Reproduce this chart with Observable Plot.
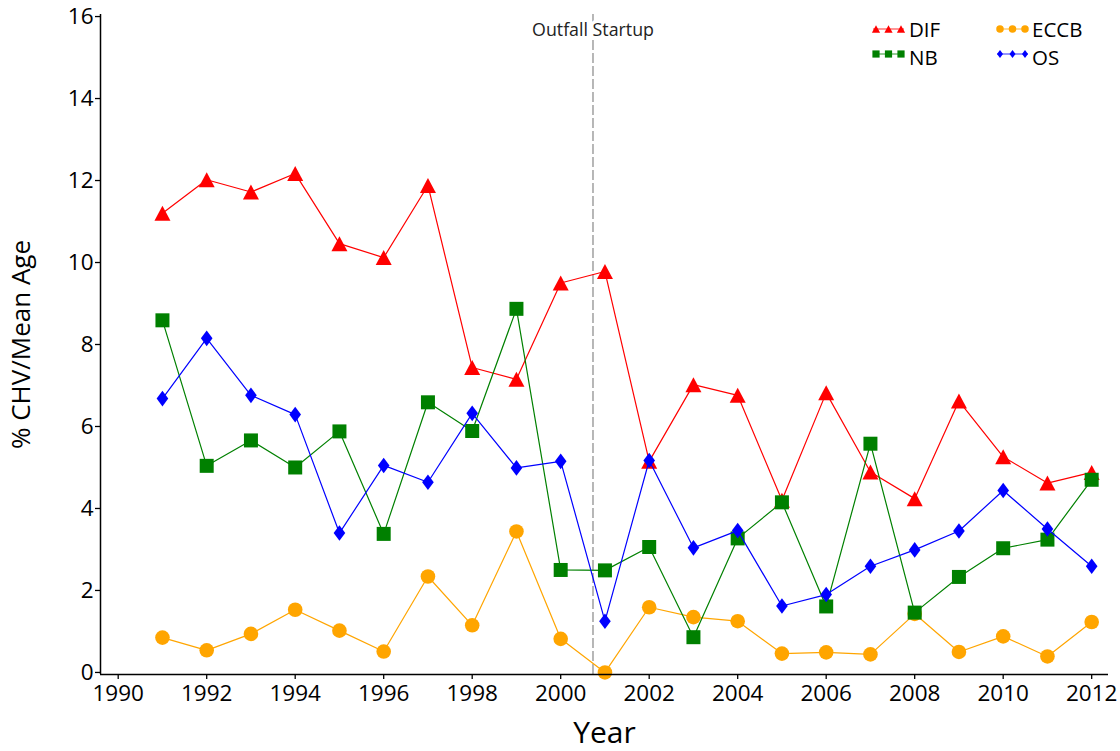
<!DOCTYPE html>
<html>
<head>
<meta charset="utf-8">
<script src="https://cdn.jsdelivr.net/npm/d3@7"></script>
<script src="https://cdn.jsdelivr.net/npm/@observablehq/plot@0.6"></script>
<style>
  html, body { margin: 0; padding: 0; background: #fff; }
  #chart { width: 1120px; height: 751px; }
</style>
</head>
<body>
<div id="chart"></div>
<script>
// ---- data ----
const years = [1991, 1992, 1993, 1994, 1995, 1996, 1997, 1998, 1999, 2000, 2001,
               2002, 2003, 2004, 2005, 2006, 2007, 2008, 2009, 2010, 2011, 2012];
const seriesNames = ["DIF", "ECCB", "NB", "OS"];
const DIF  = [11.2, 12.02, 11.72, 12.17, 10.46, 10.12, 11.88, 7.44, 7.15, 9.5, 9.78,
              5.15, 7.02, 6.76, 4.2, 6.82, 4.89, 4.24, 6.62, 5.26, 4.62, 4.88];
const NB   = [8.59, 5.04, 5.66, 5.0, 5.88, 3.38, 6.59, 5.89, 8.87, 2.5, 2.49,
              3.06, 0.86, 3.27, 4.15, 1.61, 5.58, 1.46, 2.33, 3.03, 3.24, 4.7];
const ECCB = [0.85, 0.54, 0.94, 1.53, 1.02, 0.51, 2.34, 1.15, 3.44, 0.82, 0.0,
              1.59, 1.35, 1.25, 0.46, 0.49, 0.44, 1.43, 0.5, 0.88, 0.39, 1.23];
const OS   = [6.68, 8.15, 6.76, 6.29, 3.4, 5.05, 4.64, 6.32, 4.99, 5.15, 1.25,
              5.17, 3.04, 3.46, 1.62, 1.9, 2.59, 2.99, 3.45, 4.44, 3.5, 2.59];
const xTicks = [1990, 1992, 1994, 1996, 1998, 2000, 2002, 2004, 2006, 2008, 2010, 2012];
const yTicks = [0, 2, 4, 6, 8, 10, 12, 14, 16];
const outfallYear = 2000.73;
const outfallLabel = "Outfall Startup";
const xLabel = "Year";
const yLabel = "% CHV/Mean Age";

// ---- styles ----
const colors = {DIF: "#ff0000", NB: "#008000", ECCB: "#ffa500", OS: "#0000ff"};
const valuesBy = {DIF, NB, ECCB, OS};

// custom marker shapes (scale with Plot's r: r=7 -> k=1)
const kOf = size => Math.sqrt(size / Math.PI) / 7;
const triSym = {draw(c, size) { const k = kOf(size), w = 8 * k, h = 7.5 * k;
  c.moveTo(0, -h); c.lineTo(w, h); c.lineTo(-w, h); c.closePath(); }};
const sqSym = {draw(c, size) { const k = kOf(size), s = 7 * k;
  c.rect(-s, -s, 2 * s, 2 * s); }};
const diaSym = {draw(c, size) { const k = kOf(size), w = 5.8 * k, h = 7.8 * k;
  c.moveTo(0, -h); c.lineTo(w, 0); c.lineTo(0, h); c.lineTo(-w, 0); c.closePath(); }};
const cirSym = {draw(c, size) { const k = kOf(size), r = 7.3 * k;
  c.moveTo(r, 0); c.arc(0, 0, r, 0, 2 * Math.PI); }};
const symbols = {DIF: triSym, NB: sqSym, ECCB: cirSym, OS: diaSym};

const table = seriesNames.flatMap(name =>
  years.map((year, i) => ({name, year, value: valuesBy[name][i]})));

const xDomain = [1989.6, 2012.38];
const yDomain = [-0.05, 16.05];

const seriesMarks = seriesNames.flatMap(name => {
  const d = table.filter(t => t.name === name);
  return [
    Plot.line(d, {x: "year", y: "value", stroke: colors[name], strokeWidth: 1.2}),
    Plot.dot(d, {x: "year", y: "value", symbol: () => symbols[name], r: 7,
                 fill: colors[name], stroke: "none"})
  ];
});

// legend drawn as an SVG group inside the plot
const legendLayout = [
  {name: "DIF",  lx: 873, ly: 29, tx: 909, ty: 37},
  {name: "NB",   lx: 873, ly: 54, tx: 909, ty: 64.5},
  {name: "ECCB", lx: 997, ly: 29, tx: 1032, ty: 37},
  {name: "OS",   lx: 997, ly: 54, tx: 1032, ty: 64.5}
];
function legendMark() {
  const g = d3.create("svg:g");
  for (const it of legendLayout) {
    const col = colors[it.name];
    g.append("line").attr("x1", it.lx).attr("x2", it.lx + 31)
      .attr("y1", it.ly).attr("y2", it.ly)
      .attr("stroke", col).attr("stroke-width", 1.5).attr("opacity", 0.55);
    const sym = d3.symbol(symbols[it.name], Math.PI * 3.6 * 3.6);
    for (const dx of [3, 15.5, 28]) {
      g.append("path").attr("d", sym()).attr("fill", col)
        .attr("transform", `translate(${it.lx + dx},${it.ly})`);
    }
    g.append("text").attr("x", it.tx).attr("y", it.ty)
      .attr("text-anchor", "start")
      .attr("font-size", 20.5).attr("fill", "#000").text(it.name);
  }
  return g.node();
}

const chart = Plot.plot({
  width: 1120,
  height: 751,
  marginLeft: 100,
  marginRight: 12,
  marginTop: 14,
  marginBottom: 77,
  style: {fontFamily: "'Open Sans', 'Noto Sans', sans-serif", fontSize: "22px", color: "#000", background: "#fff"},
  x: {domain: xDomain, label: null},
  y: {domain: yDomain, label: null},
  marks: [
    Plot.ruleX([outfallYear], {stroke: "#888", strokeWidth: 1.2, strokeDasharray: "10,3"}),
    Plot.text([outfallLabel], {x: () => outfallYear, frameAnchor: "top", lineAnchor: "middle", dy: 16,
      fontSize: 17.8, fill: "#222", stroke: "white", strokeWidth: 7}),
    ...seriesMarks,
    Plot.ruleX([xDomain[0]], {stroke: "#000", strokeWidth: 1.5}),
    Plot.ruleY([yDomain[0]], {stroke: "#000", strokeWidth: 1.5}),
    Plot.axisX({ticks: xTicks, tickFormat: d => String(d), tickSize: 5, tickPadding: 6,
      fontSize: 22.5, label: null, strokeWidth: 1.3}),
    Plot.axisY({ticks: yTicks, tickSize: 5, tickPadding: 2, fontSize: 22.5, label: null, strokeWidth: 1.3}),
    Plot.text([xLabel], {frameAnchor: "bottom", lineAnchor: "middle", dy: 59, fontSize: 30, fill: "#000"}),
    Plot.text([yLabel], {frameAnchor: "left", textAnchor: "middle", dx: -79, rotate: -90, fontSize: 26, fill: "#000"}),
    legendMark
  ]
});
document.getElementById("chart").appendChild(chart);
</script>
</body>
</html>
